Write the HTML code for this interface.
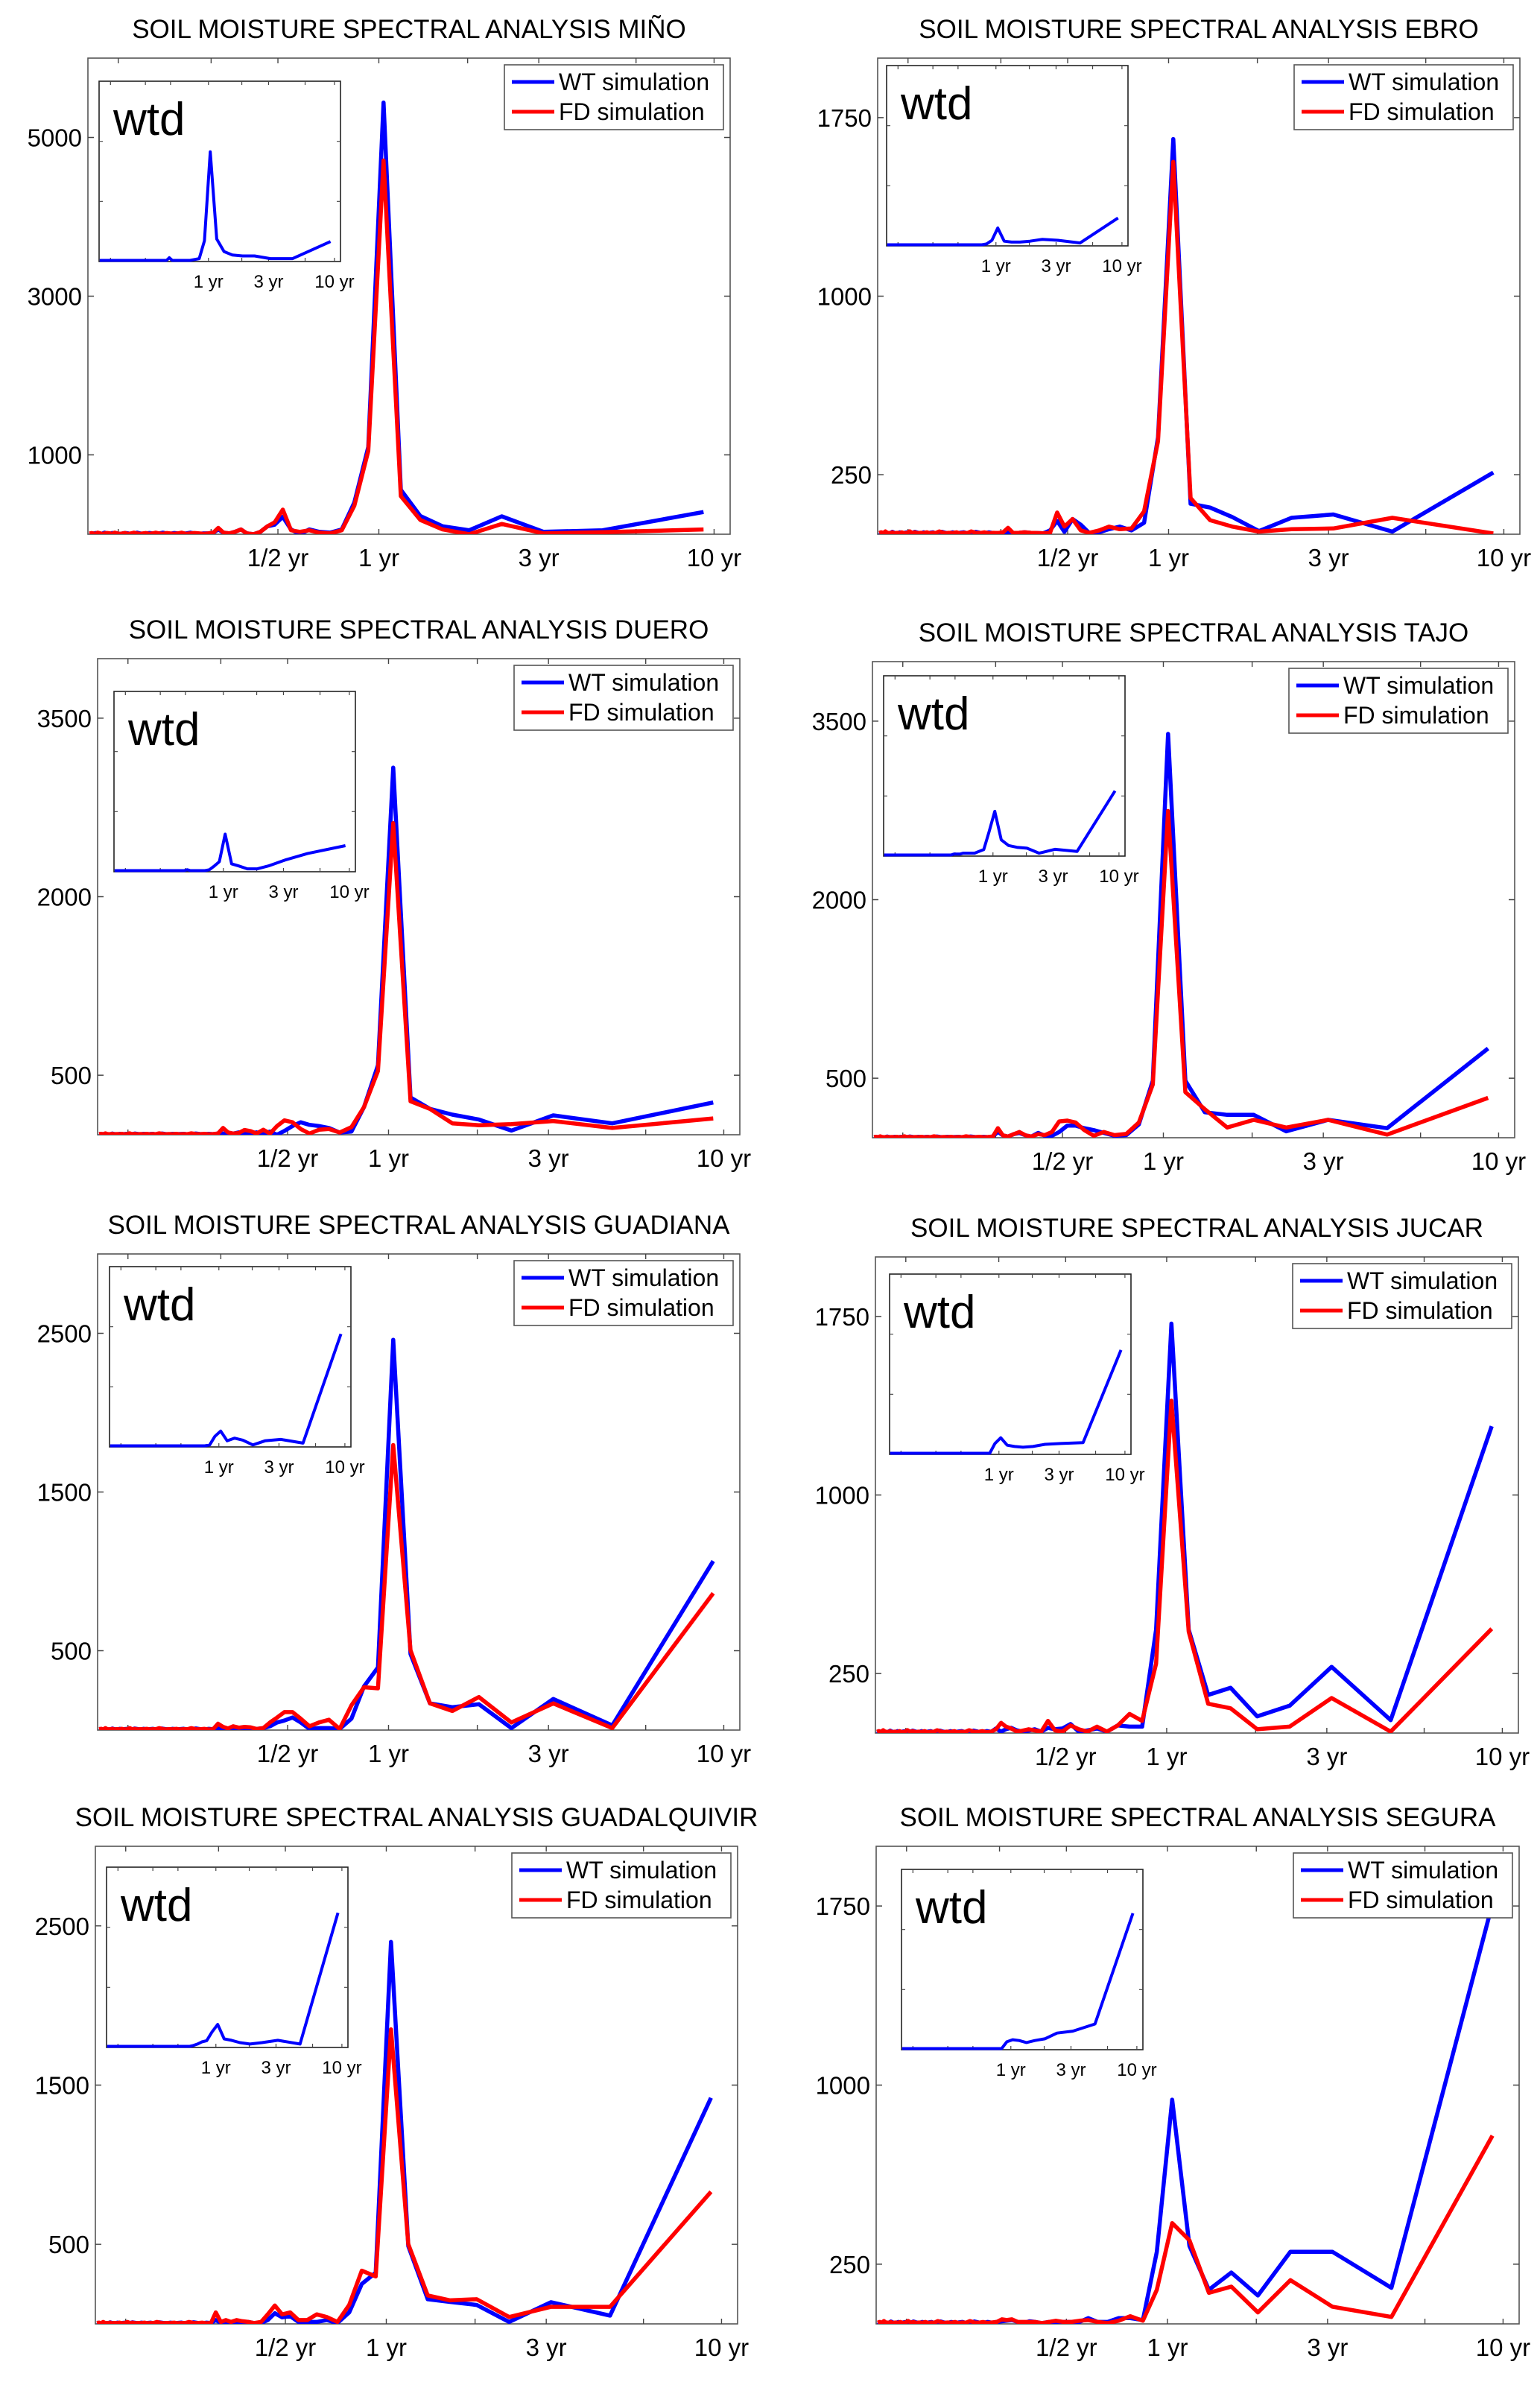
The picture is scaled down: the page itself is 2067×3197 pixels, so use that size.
<!DOCTYPE html>
<html><head><meta charset="utf-8">
<style>
html,body{margin:0;padding:0;background:#fff;}
svg{display:block;font-family:"Liberation Sans",Arial,sans-serif;}
</style></head>
<body>
<svg id="fig" xmlns="http://www.w3.org/2000/svg" width="2067" height="3197" viewBox="0 0 2067 3197">
<rect x="0" y="0" width="2067" height="3197" fill="#fff"/>
</svg>
<script>
// ---- shared categories: spectral periods in years ----
const periods = [9.3,4.65,3.1,2.325,1.86,1.55,1.329,1.163,1.033,0.93,
0.845,0.775,0.715,0.664,0.62,0.581,0.547,0.517,0.489,0.465,
0.443,0.423,0.404,0.388,0.372,0.358,0.344,0.332,0.321,0.31,
0.3,0.291,0.282,0.274,0.266,0.258,0.251,0.245,0.238,0.233,
0.227,0.221,0.216,0.211,0.207,0.202,0.198,0.194,0.19,0.186,
0.182,0.179,0.175,0.172,0.169,0.166,0.163,0.16,0.158,0.155,
0.152,0.15,0.148,0.145,0.143,0.141,0.139,0.137];
const xTickLabels = ["1/2 yr","1 yr","3 yr","10 yr"];
const xTickValues = [0.5,1,3,10];
const insetTickLabels = ["1 yr","3 yr","10 yr"];
const insetTickValues = [1,3,10];

// low-amplitude tails (periods k=31..68)
const tailBigWT = [10,5,10,20,10,5,10,15,5,10,20,10,5,10,15,10,5,10,20,10,5,10,15,10,5,10,10,15,5,10,20,10,5,10,15,10,5,10];
const tailBigFD = [5,10,15,10,5,20,10,5,10,15,5,10,20,10,5,15,10,5,10,20,10,5,15,10,5,10,20,5,10,15,10,5,10,20,5,10,15,10];
const tailSmallWT = [5,8,4,6,10,5,4,8,6,5,8,4,6,10,5,4,8,6,5,8,4,6,10,5,4,8,6,5,8,4,6,10,5,4,8,6,5,8];
const tailSmallFD = [6,4,8,5,6,12,5,6,4,8,5,6,4,8,12,5,6,4,8,5,6,4,8,5,12,6,4,8,5,6,4,8,5,6,12,4,8,5];
const wtdTail = [0,0,0,0,0,0,0,0,0,0,0,0,0,0,0,0,0,0,0,0,0,0,0,0,0,0,0,0,0,0,0,0,0,0,0,0,0,0,0,0,0,0,0,0,0,0,0,0];

// ---- panel series (k=1..30 heads) ----
const minoWT = [280,50,30,225,50,100,230,560,5440,1100,400,60,20,30,60,0,60,220,120,100,30,0,10,60,30,10,20,60,20,10];
const minoFD = [60,25,10,130,0,60,180,480,4710,1050,360,50,10,20,50,30,50,310,150,100,30,0,10,60,30,10,20,80,20,10];
const minoWTD = [10.6,1,1,2.5,2.5,3,5,12,61,11,1,0.5,0,0,0,0,0,0,1.5,0];

const ebroWT = [259,11,83,69,13,72,112,128,1660,407,48,16,32,21,8,4,40,64,10,56,16,4,5,6,8,6,5,8,6,5];
const ebroFD = [3,69,24,21,11,32,59,152,1564,391,96,24,21,32,16,6,16,64,32,91,6,4,5,6,8,6,5,27,8,5];
const ebroWTD = [15,1,2.5,3,2,1.5,1.5,2,9.4,2.5,0.5,0,0,0,0,0,0,0,0,0];

const dueroWT = [271,96,163,35,128,169,217,313,3084,584,233,26,19,57,73,83,105,73,32,0,26,10,20,15,10,20,10,15,10,10];
const dueroFD = [137,57,115,89,80,96,217,281,2618,536,233,64,19,48,42,10,48,105,121,73,10,42,10,30,40,15,10,20,57,10];
const dueroWTD = [14,9.6,6,2.8,1,1,2.6,3.8,20.5,5,2.5,0.5,0,0,0,0,0,0.5,0,0];

const tajoWT = [750,80,150,54,192,192,214,479,3393,479,112,22,16,41,64,80,102,102,48,16,16,41,10,20,40,30,10,20,50,10];
const tajoFD = [335,26,150,86,150,86,240,383,2745,447,128,32,22,48,16,64,128,144,137,48,22,30,10,20,48,30,10,20,80,10];
const tajoWTD = [36,2,3.2,1,3.8,4.3,5.3,8.5,24.5,12.8,3,2,1,1,1,1,0.5,0.5,0.5,0];

const guadianaWT = [1065,29,196,12,163,144,168,479,2459,395,275,72,7,12,12,7,48,79,60,48,24,12,7,12,10,8,12,10,8,10];
const guadianaFD = [862,12,168,48,208,120,168,503,1796,263,270,156,7,65,48,24,72,113,113,79,48,12,7,17,20,15,24,10,20,40];
const guadianaWTD = [62.8,1.5,3.6,2.8,0.5,3.2,4.3,2.8,8.3,5.3,0.5,0,0,0,0,0,0,0,0,0];

const jucarWT = [1289,54,278,115,70,190,160,434,1720,434,27,27,32,6,19,11,6,38,19,16,22,6,16,10,6,11,22,16,6,19];
const jucarFD = [438,6,147,27,16,104,123,426,1396,291,51,80,32,6,27,6,16,32,6,11,51,6,11,16,10,6,19,27,43,16];
const jucarWTD = [58,6,5.5,5,3.8,3.4,3.8,4.5,8.7,5.5,0,0,0,0,0,0,0,0,0,0];

const guadalquivirWT = [1420,52,136,12,119,138,155,489,2399,322,251,72,5,24,12,12,12,48,41,67,24,5,5,12,5,12,10,12,5,24];
const guadalquivirFD = [830,107,107,43,155,148,179,501,1850,298,334,119,12,43,60,24,24,72,60,115,60,12,5,12,17,24,12,24,12,72];
const guadalquivirWTD = [75,1.3,3.4,2.1,1.3,2.1,3.4,4.2,12.3,8,3.2,2.5,1.3,0.5,0,0,0,0,0,0];

const seguraWT = [1760,151,302,302,119,215,143,326,939,302,16,24,24,8,8,24,8,8,8,8,8,3,8,11,3,8,16,13,11,8];
const seguraFD = [788,29,72,183,48,156,130,350,422,143,13,32,13,3,8,16,13,8,8,13,8,3,8,8,8,8,19,16,19,8];
const seguraWTD = [76,13.8,9.8,8.7,5.5,4.5,3.4,4.5,5,3.8,0,0,0,0,0,0,0,0,0,0];

const yTicksA = [1000,3000,5000];
const yTicksB = [250,1000,1750];
const yTicksC = [500,2000,3500];
const yTicksD = [500,1500,2500];

const panels = [
 {id:"mino", title:"SOIL MOISTURE SPECTRAL ANALYSIS MIÑO", x0:118,x1:980,y0:78,y1:717, ymax:6000, ticks:yTicksA, wt:minoWT.concat(tailBigWT), fd:minoFD.concat(tailBigFD), wtd:minoWTD.concat(wtdTail), ix:15, iy:31},
 {id:"ebro", title:"SOIL MOISTURE SPECTRAL ANALYSIS EBRO", x0:1178,x1:2040,y0:78,y1:717, ymax:2000, ticks:yTicksB, wt:ebroWT.concat(tailSmallWT), fd:ebroFD.concat(tailSmallFD), wtd:ebroWTD.concat(wtdTail), ix:12, iy:10},
 {id:"duero", title:"SOIL MOISTURE SPECTRAL ANALYSIS DUERO", x0:131,x1:993,y0:884,y1:1523, ymax:4000, ticks:yTicksC, wt:dueroWT.concat(tailSmallWT), fd:dueroFD.concat(tailSmallFD), wtd:dueroWTD.concat(wtdTail), ix:22, iy:44},
 {id:"tajo", title:"SOIL MOISTURE SPECTRAL ANALYSIS TAJO", x0:1171,x1:2033,y0:888,y1:1527, ymax:4000, ticks:yTicksC, wt:tajoWT.concat(tailSmallWT), fd:tajoFD.concat(tailSmallFD), wtd:tajoWTD.concat(wtdTail), ix:15, iy:19},
 {id:"guadiana", title:"SOIL MOISTURE SPECTRAL ANALYSIS GUADIANA", x0:131,x1:993,y0:1683,y1:2322, ymax:3000, ticks:yTicksD, wt:guadianaWT.concat(tailSmallWT), fd:guadianaFD.concat(tailSmallFD), wtd:guadianaWTD.concat(wtdTail), ix:16, iy:17},
 {id:"jucar", title:"SOIL MOISTURE SPECTRAL ANALYSIS JUCAR", x0:1175,x1:2038,y0:1687,y1:2326, ymax:2000, ticks:yTicksB, wt:jucarWT.concat(tailSmallWT), fd:jucarFD.concat(tailSmallFD), wtd:jucarWTD.concat(wtdTail), ix:19, iy:23},
 {id:"guadalquivir", title:"SOIL MOISTURE SPECTRAL ANALYSIS GUADALQUIVIR", x0:128,x1:990,y0:2478,y1:3119, ymax:3000, ticks:yTicksD, wt:guadalquivirWT.concat(tailSmallWT), fd:guadalquivirFD.concat(tailSmallFD), wtd:guadalquivirWTD.concat(wtdTail), ix:15, iy:28},
 {id:"segura", title:"SOIL MOISTURE SPECTRAL ANALYSIS SEGURA", x0:1176,x1:2039,y0:2478,y1:3119, ymax:2000, ticks:yTicksB, wt:seguraWT.concat(tailSmallWT), fd:seguraFD.concat(tailSmallFD), wtd:seguraWTD.concat(wtdTail), ix:34, iy:31}
];

const NS = "http://www.w3.org/2000/svg";
const svg = document.getElementById("fig");
function mk(tag, attrs, parent){
  const e = document.createElementNS(NS, tag);
  for (const k in attrs) e.setAttribute(k, attrs[k]);
  (parent||svg).appendChild(e);
  return e;
}
// log-period axis fraction
function xFrac(p){ return 0.453 + 0.522*Math.log10(p); }
const minorPeriods = [0.167,0.316,0.5,1,1.84,3,5.85,10];

panels.forEach(function(P){
  const g = mk("g", {});
  
  
  const W = P.x1 - P.x0, H = P.y1 - P.y0;
  const xs = function(p){ return P.x0 + xFrac(p)*W; };
  const ys = function(v){ return P.y1 - v/P.ymax*H; };

  // title
  const t = mk("text", {x:(P.x0+P.x1)/2, y:P.y0-27, "text-anchor":"middle", "font-size":35, fill:"#000"}, g);
  t.textContent = P.title;
  
  

  // plot box
  const box = mk("rect", {x:P.x0, y:P.y0, width:W, height:H, fill:"#fff", stroke:"#555", "stroke-width":1.6}, g);
  
  

  // x ticks (top & bottom)
  minorPeriods.forEach(function(p){
    const x = xs(p);
    const tk = mk("path", {d:"M"+x+" "+P.y1+"v-7M"+x+" "+P.y0+"v7", stroke:"#444", "stroke-width":1.4, fill:"none"}, g);
    
    
  });
  xTickValues.forEach(function(p,i){
    const lb = mk("text", {x:xs(p), y:P.y1+43, "text-anchor":"middle", "font-size":33, fill:"#000"}, g);
    lb.textContent = xTickLabels[i];
    
    
  });
  // y ticks
  P.ticks.forEach(function(v){
    const y = ys(v);
    const tk = mk("path", {d:"M"+P.x0+" "+y+"h8M"+P.x1+" "+y+"h-8", stroke:"#444", "stroke-width":1.4, fill:"none"}, g);
    
    
    const lb = mk("text", {x:P.x0-8, y:y+12, "text-anchor":"end", "font-size":33, fill:"#000"}, g);
    lb.textContent = String(v);
    
    
  });

  // clip
  const cp = mk("clipPath", {id:"clip-"+P.id}, g);
  mk("rect", {x:P.x0, y:P.y0, width:W, height:H}, cp);

  // series lines
  function line(vals, color, name){
    let d = "";
    vals.forEach(function(v,i){ d += (i?"L":"M") + xs(periods[i]).toFixed(1) + " " + ys(v).toFixed(1); });
    const pth = mk("path", {d:d, stroke:color, "stroke-width":5.5, fill:"none", "stroke-linejoin":"round", "clip-path":"url(#clip-"+P.id+")"}, g);
    
    
  }
  line(P.wt, "#0000ff", P.id + "-wt-simulation-line");
  line(P.fd, "#ff0000", P.id + "-fd-simulation-line");

  // inset
  const IX0 = P.x0 + P.ix, IY0 = P.y0 + P.iy, IW = 324, IH = 242;
  const ig = mk("g", {}, g);
  
  
  const ib = mk("rect", {x:IX0, y:IY0, width:IW, height:IH, fill:"#fff", stroke:"#222", "stroke-width":1.6}, ig);
  
  
  const ixs = function(p){ return IX0 + xFrac(p)*IW; };
  const iys = function(v){ return IY0 + IH - 1.5 - v/100*(IH-3); };
  [1/3, 2/3].forEach(function(f){
    const y = IY0 + IH - f*IH;
    const tk = mk("path", {d:"M"+IX0+" "+y+"h5M"+(IX0+IW)+" "+y+"h-5", stroke:"#444", "stroke-width":1.2, fill:"none"}, ig);
    
    
  });
  minorPeriods.forEach(function(p){
    const x = ixs(p);
    const tk = mk("path", {d:"M"+x+" "+(IY0+IH)+"v-5M"+x+" "+IY0+"v5", stroke:"#444", "stroke-width":1.2, fill:"none"}, ig);
    
    
  });
  insetTickValues.forEach(function(p,i){
    const lb = mk("text", {x:ixs(p), y:IY0+IH+35, "text-anchor":"middle", "font-size":24, fill:"#000"}, ig);
    lb.textContent = insetTickLabels[i];
    
    
  });
  const wl = mk("text", {x:IX0+19, y:IY0+72, "font-size":62, fill:"#000"}, ig);
  wl.textContent = "wtd";
  
  
  let d = "";
  P.wtd.forEach(function(v,i){ d += (i?"L":"M") + ixs(periods[i]).toFixed(1) + " " + iys(v).toFixed(1); });
  const ip = mk("path", {d:d, stroke:"#0000ff", "stroke-width":4, fill:"none", "stroke-linejoin":"round"}, ig);
  
  

  // legend
  const LX = P.x1 - 9 - 294, LY = P.y0 + 9;
  const lg = mk("g", {}, g);
  
  
  mk("rect", {x:LX, y:LY, width:294, height:87, fill:"#fff", stroke:"#555", "stroke-width":1.6}, lg);
  [["WT simulation","#0000ff",23],["FD simulation","#ff0000",63]].forEach(function(e){
    const ent = mk("g", {}, lg);
    
    
    mk("path", {d:"M"+(LX+10)+" "+(LY+e[2])+"h57", stroke:e[1], "stroke-width":5, fill:"none"}, ent);
    const tx = mk("text", {x:LX+73, y:LY+e[2]+11, "font-size":32, fill:"#000"}, ent);
    tx.textContent = e[0];
  });
});
</script>
</body></html>
